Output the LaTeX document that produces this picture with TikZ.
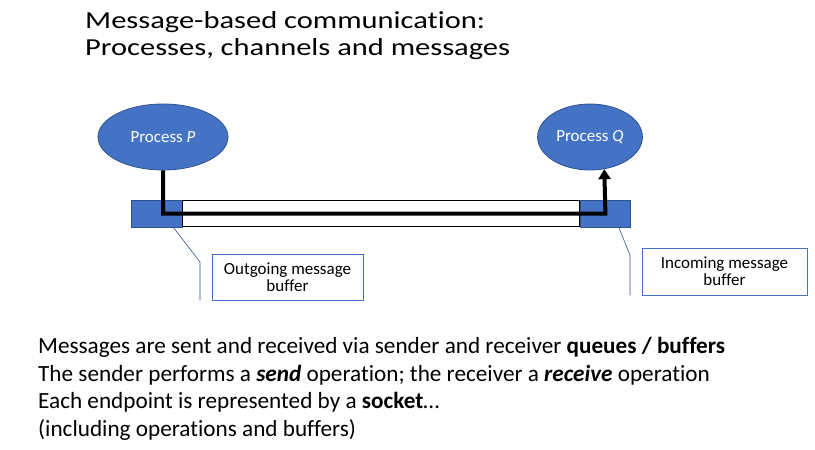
\documentclass[tikz,border=0pt]{standalone}
\usepackage{fontspec}
\setmainfont{Carlito}[Ligatures=NoCommon]
\newfontfamily\titlefont{Carlito}[FakeStretch=1.25, Ligatures=NoCommon]
\usepackage{xcolor}
\usepackage{tikz}
\usetikzlibrary{arrows.meta,positioning,shapes.geometric,calc}
\definecolor{procblue}{HTML}{4472C4}
\definecolor{edgeblue}{HTML}{2F528F}

\begin{document}
\begin{tikzpicture}[
    x=1pt, y=-1pt,
    proc/.style={ellipse, draw=edgeblue, fill=procblue, line width=0.8pt, minimum height=66pt, text=white, font=\fontsize{17}{20}\selectfont},
    buf/.style={rectangle, draw=edgeblue, fill=procblue, line width=0.6pt, minimum width=51pt, minimum height=27pt, inner sep=0pt},
    pipe/.style={rectangle, draw=black, fill=white, line width=0.8pt, minimum height=26pt, inner sep=0pt},
    msg/.style={line width=4pt, -{Triangle[width=12pt,length=10pt]}},
    bufnote/.style={rectangle, draw=procblue, line width=0.7pt, align=center, font=\fontsize{17}{20}\selectfont},
    callout/.style={draw=edgeblue, line width=0.6pt}
]
    \useasboundingbox (0,0) rectangle (815,450);

    % Title
    \node[anchor=north west, inner sep=0pt, align=left, font=\titlefont\fontsize{24.4}{27}\selectfont] (title) at (85,11)
        {Message-based communication:\\Processes, channels and messages};

    % Processes
    \node[proc, minimum width=130pt] (procP) at (163,137) {Process \textit{P}};
    \node[proc, minimum width=103pt] (procQ) at (590,137) {Process \textit{Q}};

    % Channel with buffers at both ends
    \node[buf] (outbuf) at (156.5,213.5) {};
    \node[pipe, minimum width=397pt, right=0pt of outbuf] (chan) {};
    \node[buf, minimum width=50pt, right=0pt of chan] (inbuf) {};

    % Message path
    \draw[msg] (procP.south) |- (inbuf.center) -- (procQ.-66);

    % Buffer labels
    \node[bufnote, minimum width=151pt, minimum height=46pt] (outlbl) at (287.5,277) {Outgoing message\\[-3pt]buffer};
    \node[bufnote, minimum width=165pt, minimum height=47pt] (inlbl) at (724.5,271.5) {Incoming message\\[-3pt]buffer};
    \coordinate (outknee) at (200,262);
    \coordinate (inknee) at (630,255);
    \draw[callout] ($(outbuf.south east)+(-9,0)$) -- (outknee) -- (outknee |- outlbl.south);
    \draw[callout] ($(inbuf.south east)+(-12,0)$) -- (inknee) -- (inknee |- inlbl.south);

    % Description
    \node[anchor=north west, inner sep=0pt, align=left, font=\fontsize{23.2}{27.5}\selectfont] (desc) at (38,337.5)
        {Messages are sent and received via sender and receiver \textbf{queues / buffers}\\
         The sender performs a \textbf{\textit{send}} operation; the receiver a \textbf{\textit{receive}} operation\\
         Each endpoint is represented by a \textbf{socket}\dots\\
         (including operations and buffers)};
\end{tikzpicture}
\end{document}
